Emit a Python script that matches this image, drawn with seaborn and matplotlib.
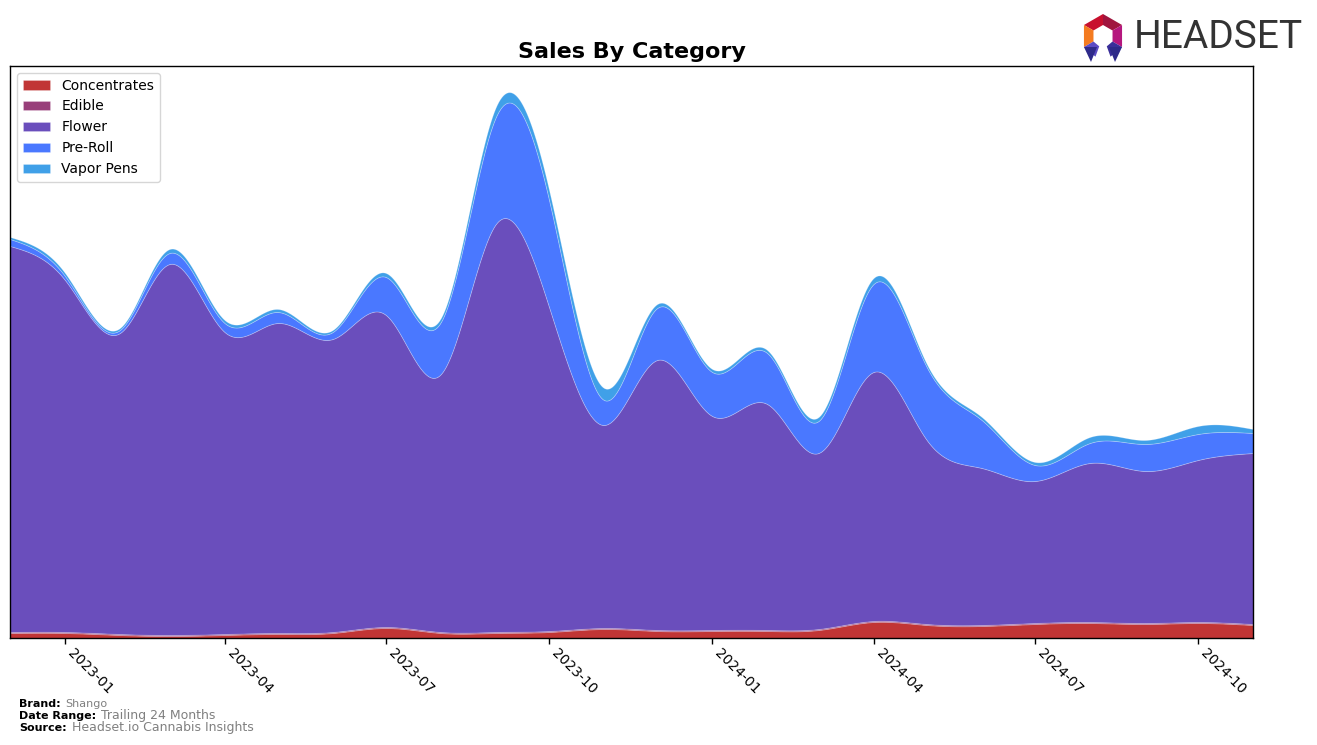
import numpy as np
import pandas as pd
import matplotlib
matplotlib.use("Agg")
import matplotlib.pyplot as plt
import matplotlib.dates as mdates
from matplotlib.patches import Polygon
import seaborn as sns

# ---------------- data (monthly sales, thousands USD, estimated) ----------------
months = pd.date_range("2022-12-01", periods=24, freq="MS")
categories = ["Concentrates", "Edible", "Flower", "Pre-Roll", "Vapor Pens"]
concentrates = [5, 5, 3, 2, 3, 4, 5, 10, 5, 5, 6, 9, 7, 7, 7, 8, 16, 13, 12, 14, 15, 14, 15, 13]
edible = [1, 1, 1, 1, 1, 1, 1, 1, 1, 1, 1, 1, 1, 1, 1, 1, 1, 1, 1, 1, 1, 1, 1, 1]
flower = [386, 352, 301, 371, 302, 310, 293, 312, 258, 408, 324, 203, 270, 214, 226, 176,
          249, 184, 157, 142, 159, 152, 162, 171]
pre_roll = [7, 4, 3, 11, 9, 11, 7, 38, 52, 107, 107, 25, 52, 44, 51, 32, 88, 73, 48, 16,
            20, 27, 26, 20]
vapor_pens = [2, 3, 2, 4, 3, 3, 2, 4, 4, 10, 10, 12, 4, 3, 3, 4, 6, 3, 3, 3, 6, 4, 8, 4]
colors = ["#c13535", "#983f7a", "#6a4ebc", "#4a78ff", "#40a0e8"]


def natural_spline(x, y, xs):
    x = np.asarray(x, float)
    y = np.asarray(y, float)
    n = len(x)
    h = np.diff(x)
    A = np.zeros((n, n))
    b = np.zeros(n)
    A[0, 0] = 1
    A[-1, -1] = 1
    for i in range(1, n - 1):
        A[i, i - 1] = h[i - 1]
        A[i, i] = 2 * (h[i - 1] + h[i])
        A[i, i + 1] = h[i]
        b[i] = 3 * ((y[i + 1] - y[i]) / h[i] - (y[i] - y[i - 1]) / h[i - 1])
    c = np.linalg.solve(A, b)
    bb = np.zeros(n - 1)
    d = np.zeros(n - 1)
    for i in range(n - 1):
        bb[i] = (y[i + 1] - y[i]) / h[i] - h[i] * (2 * c[i] + c[i + 1]) / 3
        d[i] = (c[i + 1] - c[i]) / (3 * h[i])
    idx = np.clip(np.searchsorted(x, xs) - 1, 0, n - 2)
    dx = xs - x[idx]
    return y[idx] + bb[idx] * dx + c[idx] * dx ** 2 + d[idx] * dx ** 3


# ---------------- figure ----------------
sns.set_theme(style="white")
plt.rcParams["font.family"] = ["DejaVu Sans"]
plt.rcParams["text.color"] = "black"
plt.rcParams["axes.titlecolor"] = "black"
plt.rcParams["xtick.color"] = "black"
plt.rcParams["xtick.labelcolor"] = "black"

fig = plt.figure(figsize=(13.17, 7.45), dpi=100)
ax = fig.add_axes([10 / 1317, 1 - 638 / 745, (1253 - 10) / 1317, (638 - 66) / 745])

xnum = mdates.date2num(months)
xs = np.linspace(xnum[0], xnum[-1], 800)
series = [concentrates, edible, flower, pre_roll, vapor_pens]
smooth = [np.clip(natural_spline(xnum, np.array(s) * 1000.0, xs), 0, None) for s in series]

palette = sns.color_palette(colors)
ax.stackplot(mdates.num2date(xs), *smooth, labels=categories, colors=palette,
             linewidth=0.6, edgecolor=(1, 1, 1, 0.25))

ax.set_xlim(months[0], months[-1])
ax.set_ylim(0, 572000)
ax.set_yticks([])
ax.xaxis.set_major_locator(mdates.MonthLocator(bymonth=[1, 4, 7, 10]))
ax.xaxis.set_major_formatter(mdates.DateFormatter("%Y-%m"))
ax.tick_params(axis="x", which="major", length=4, width=1, color="black", bottom=True,
               labelsize=10, pad=2, labelcolor="black")
for lab in ax.get_xticklabels():
    lab.set_rotation(-45)
    lab.set_ha("left")
for sp in ax.spines.values():
    sp.set_visible(True)
    sp.set_color("black")
    sp.set_linewidth(1)

ax.set_title("Sales By Category", fontsize=16, fontweight="bold", pad=6, color="black")
leg = ax.legend(loc="upper left", fontsize=10, frameon=True, borderpad=0.4,
                labelspacing=0.5, handlelength=2, bbox_to_anchor=(0.0, 1.0))
leg.get_frame().set_edgecolor("#cccccc")
for t in leg.get_texts():
    t.set_color("black")

# ---------------- footer text ----------------
def footer(y, bold, rest, size):
    t = fig.text(19 / 1317, 1 - y / 745, bold, fontsize=8, fontweight="bold", color="black",
                 va="center", ha="left")
    fig.canvas.draw()
    bb = t.get_window_extent()
    fig.text((bb.x1 + 5) / 1317, 1 - y / 745, rest, fontsize=size, color="#808080",
             va="center", ha="left")

footer(704, "Brand:", "Shango", 8)
footer(716, "Date Range:", "Trailing 24 Months", 9)
footer(728, "Source:", "Headset.io Cannabis Insights", 9)

# ---------------- logo ----------------
lax = fig.add_axes([1078 / 1317, 1 - 62 / 745, 50 / 1317, 48 / 745])
lax.set_xlim(0, 50)
lax.set_ylim(0, 48)
lax.axis("off")
cx, cy = 25, 26
outer = 22
inner = 11
segs = [(90, 150, "#c8102e"), (30, 90, "#a0153e"), (150, 210, "#f47b20"),
        (330, 30, "#b5177e"), (210, 250, "#5b4bc4"), (290, 330, "#3a2f9a")]
for a0, a1, col in segs:
    a0r, a1r = np.deg2rad(a0), np.deg2rad(a1)
    pts = [(cx + outer * np.cos(a0r), cy + outer * np.sin(a0r)),
           (cx + outer * np.cos(a1r), cy + outer * np.sin(a1r)),
           (cx + inner * np.cos(a1r), cy + inner * np.sin(a1r)),
           (cx + inner * np.cos(a0r), cy + inner * np.sin(a0r))]
    lax.add_patch(Polygon(pts, closed=True, color=col, lw=0))
lax.add_patch(Polygon([(cx + outer * np.cos(np.deg2rad(210)), cy + outer * np.sin(np.deg2rad(210))),
                       (cx - 6, cy - 11), (cx - 12, 0)], closed=True, color="#2e2a8a", lw=0))
lax.add_patch(Polygon([(cx + outer * np.cos(np.deg2rad(330)), cy + outer * np.sin(np.deg2rad(330))),
                       (cx + 6, cy - 11), (cx + 12, 0)], closed=True, color="#2e2a8a", lw=0))

fig.text(1134 / 1317, 1 - 38 / 745, "HEADSET", fontsize=28, color="#333333",
         family=["Roboto", "DejaVu Sans"], va="center", ha="left")

fig.savefig("out.png", dpi=100)
